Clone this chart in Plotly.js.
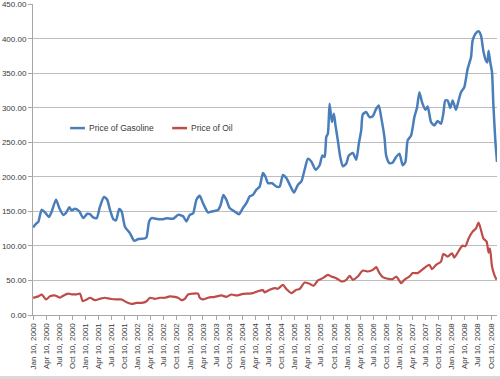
<!DOCTYPE html>
<html>
<head>
<meta charset="utf-8">
<script src="https://cdn.plot.ly/plotly-3.0.1.min.js"></script>
<style>html,body{margin:0;padding:0;background:#fff;}#chart{width:500px;height:379px;}</style>
</head>
<body>
<div id="chart"></div>
<script>
// Time points in decimal years, and prices
var gasTime = [2000.025,2000.095,2000.126,2000.190,2000.253,2000.330,2000.381,2000.463,2000.526,2000.602,2000.654,2000.717,2000.762,2000.825,2000.908,2000.984,
2001.060,2001.111,2001.174,2001.239,2001.302,2001.378,2001.441,2001.493,2001.556,2001.607,2001.670,2001.716,2001.779,2001.874,2001.957,
2002.033,2002.160,2002.193,2002.242,2002.288,2002.414,2002.509,2002.574,2002.700,2002.795,2002.828,2002.891,2002.955,
2003.018,2003.081,2003.146,2003.209,2003.272,2003.367,2003.432,2003.495,2003.558,2003.610,2003.661,2003.718,2003.781,2003.877,2003.959,
2004.035,2004.100,2004.163,2004.225,2004.290,2004.353,2004.416,2004.462,2004.512,2004.588,2004.672,2004.735,2004.798,2004.862,2004.944,
2005.007,2005.084,2005.149,2005.211,2005.274,2005.339,2005.421,2005.498,2005.549,2005.593,2005.625,2005.656,2005.688,2005.732,2005.770,2005.797,2005.846,2005.892,2005.942,
2006.007,2006.056,2006.133,2006.198,2006.247,2006.293,2006.323,2006.388,2006.451,2006.514,2006.579,2006.628,2006.674,2006.737,2006.770,2006.833,2006.896,2006.960,
2007.023,2007.086,2007.137,2007.181,2007.246,2007.309,2007.361,2007.405,2007.456,2007.519,2007.563,2007.627,2007.690,2007.753,2007.818,2007.862,2007.900,2007.944,2007.995,
2008.040,2008.104,2008.154,2008.200,2008.262,2008.326,2008.390,2008.421,2008.472,2008.535,2008.581,2008.625,2008.676,2008.702,2008.726,2008.758,2008.791,2008.816,2008.854,2008.886];
var gasPrice = [127,133,135,152.5,148.6,142,150,167,155,145,148,156,151.5,154,150,140.4,
146.7,146,141.3,140.4,157,171,167,152.5,139,137,153.5,150,128,118.7,107.5,
110,111,113,135.5,140.4,138.8,138.8,140,139.5,145,145,143,135.5,
145,147,167,172.7,162,148.6,150,150.8,152,159.7,174,167,155,150,146,
155,162,171.7,174,181.4,186,205.6,200.7,191,191,186,186,203,198.4,186,
177.5,188.7,193.5,210.4,226.4,222.5,210.4,217,231,229,257.8,262.7,306,279.5,291.6,277,253,229,215.5,
219.4,231,234.7,225,248,267.5,290.6,294,286.7,288,298.8,303.6,286.7,257.8,231,220,221,229,
233.8,217,221.7,253,260,286.7,301,322.8,308,297.4,302,279.5,274.7,281,277,291.6,310.8,310.8,300,
310.8,297.4,310.8,322.8,330,356.6,373.4,397.5,407,411,404.8,383,368.6,366,383,366,351.7,306,253,221.7];

var oilTime = [2000.025,2000.126,2000.190,2000.272,2000.349,2000.444,2000.539,2000.602,2000.698,2000.762,2000.858,2000.921,2000.972,
2001.049,2001.111,2001.207,2001.302,2001.398,2001.493,2001.621,2001.716,2001.811,2001.907,
2002.002,2002.097,2002.193,2002.256,2002.351,2002.446,2002.542,2002.637,2002.732,2002.795,2002.860,2002.923,2002.986,
2003.081,2003.177,2003.209,2003.272,2003.367,2003.495,2003.623,2003.718,2003.814,2003.909,
2004.035,2004.130,2004.225,2004.321,2004.416,2004.449,2004.544,2004.639,2004.702,2004.798,2004.862,2004.958,
2005.053,2005.116,2005.211,2005.307,2005.383,2005.465,2005.560,2005.656,2005.721,2005.816,2005.911,
2006.007,2006.070,2006.133,2006.228,2006.323,2006.419,2006.514,2006.579,2006.642,2006.705,2006.800,2006.896,2006.960,
2007.010,2007.056,2007.118,2007.214,2007.277,2007.372,2007.456,2007.532,2007.595,2007.647,2007.723,2007.818,2007.862,2007.944,
2008.028,2008.072,2008.167,2008.231,2008.282,2008.345,2008.421,2008.486,2008.535,2008.581,2008.625,2008.688,2008.726,2008.752,2008.791,2008.835,2008.878];
var oilPrice = [25,27,29.7,22.5,27,28.3,25,28,31,30,30,31,20,
22.5,25,21.5,23.5,25,23.5,22.5,22.5,18.5,16,
17.5,17.5,20,25,23.5,25,25,27,26.3,25,21.5,23.5,29.7,
31,31,25,22.5,25,26.3,28.3,26.3,29.7,28.3,
30.5,31,31.6,34.5,36,32.7,36.6,39,38,43.8,37.6,31.8,
36.6,37.6,47,45.2,42.4,50,53.4,58.2,55.8,53.4,48.6,
51,56.8,51,55.8,64.4,63,65.4,69.3,60.7,54.9,52.5,52,55.8,
51,46.2,51,55.8,60.7,60.7,65.4,70.2,72.7,66.4,72.7,77.4,88.5,84.6,
89.5,83.2,94.3,100.5,99.6,111,120.7,125.6,133.7,123.2,111,106.3,90.4,96.7,70.2,58.2,51];

var tickMonths = ['Jan', 'Apr', 'Jul', 'Oct'];
var tickMonthNums = [1, 4, 7, 10];
var tickYears = [2000, 2001, 2002, 2003, 2004, 2005, 2006, 2007, 2008];
var seriesNames = ['Price of Gasoline', 'Price of Oil'];
var seriesColors = ['#4A7EBB', '#BE4B48'];

function toDate(t) {
  var y = Math.floor(t);
  var start = Date.UTC(y, 0, 1), end = Date.UTC(y + 1, 0, 1);
  return new Date(start + (t - y) * (end - start)).toISOString().slice(0, 19).replace('T', ' ');
}
function pad(n) { return n < 10 ? '0' + n : '' + n; }

var tickvals = [], ticktext = [];
tickYears.forEach(function (y) {
  tickMonths.forEach(function (m, i) {
    tickvals.push(y + '-' + pad(tickMonthNums[i]) + '-10');
    ticktext.push(m + ' 10, ' + y);
  });
});

var gasX = gasTime.map(toDate), oilX = oilTime.map(toDate);

var traces = [
  {x: gasX, y: gasPrice, type: 'scatter', mode: 'lines', name: seriesNames[0],
   line: {color: seriesColors[0], width: 2.5, shape: 'spline', smoothing: 0.6}},
  {x: oilX, y: oilPrice, type: 'scatter', mode: 'lines', name: seriesNames[1],
   line: {color: seriesColors[1], width: 2.2, shape: 'spline', smoothing: 0.6}}
];

var font = {family: 'Arial, "Liberation Sans", sans-serif', size: 8, color: '#3a3a3a'};
var legFont = {family: font.family, size: 8.5, color: '#3a3a3a'};
var legY = 0.601;
// legend: sample line + label, positioned in paper coordinates
var legItems = [{x0: 0.080, x1: 0.112, tx: 0.116}, {x0: 0.300, x1: 0.332, tx: 0.336}];

var shapes = [{type: 'rect', xref: 'paper', yref: 'paper', x0: -0.08, x1: 1.01, y0: -0.196, y1: -0.21,
               fillcolor: '#d9d9d9', line: {width: 0}, layer: 'below'}];
var annotations = [];
legItems.forEach(function (it, i) {
  shapes.push({type: 'line', xref: 'paper', yref: 'paper', x0: it.x0, x1: it.x1, y0: legY, y1: legY,
               line: {color: seriesColors[i], width: 2.5}});
  annotations.push({xref: 'paper', yref: 'paper', x: it.tx, y: legY, xanchor: 'left', yanchor: 'middle',
                    text: seriesNames[i], showarrow: false, font: legFont});
});

var layout = {
  width: 500, height: 379,
  margin: {l: 33, r: 3, t: 4, b: 64},
  paper_bgcolor: '#ffffff', plot_bgcolor: '#ffffff',
  font: font,
  showlegend: false,
  xaxis: {type: 'date', range: ['2000-01-10', toDate(gasTime[gasTime.length - 1])],
          tickmode: 'array', tickvals: tickvals, ticktext: ticktext, tickangle: -90,
          ticks: 'outside', ticklen: 4, tickcolor: '#a6a6a6',
          showline: true, linecolor: '#a6a6a6', linewidth: 1, showgrid: false, zeroline: false,
          tickfont: font},
  yaxis: {range: [0, 450.6], tickmode: 'linear', tick0: 0, dtick: 50, tickformat: '.2f',
          ticks: 'outside', ticklen: 4, tickcolor: '#a6a6a6',
          showline: true, linecolor: '#a6a6a6', linewidth: 1,
          showgrid: true, gridcolor: '#bdbdbd', gridwidth: 1, zeroline: false,
          tickfont: font},
  shapes: shapes,
  annotations: annotations
};

Plotly.newPlot('chart', traces, layout, {displayModeBar: false, staticPlot: true});
</script>
</body>
</html>
